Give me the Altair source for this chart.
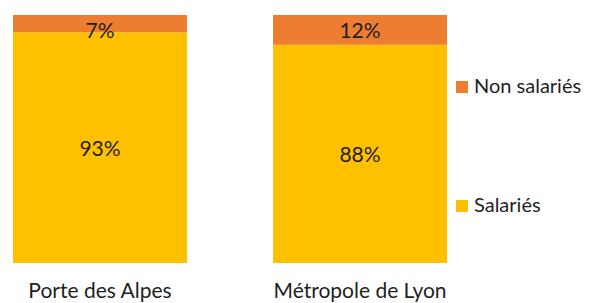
import altair as alt
import pandas as pd

zones = ["Porte des Alpes", "Métropole de Lyon"]
salaries = [93, 88]
non_salaries = [7, 12]
categories = ["Non salariés", "Salariés"]
colors = ["#ED7D31", "#FFC000"]

rows = []
for z, s, n in zip(zones, salaries, non_salaries):
    rows.append({"zone": z, "statut": "Salariés", "valeur": s, "ordre": 0, "label": f"{s}%"})
    rows.append({"zone": z, "statut": "Non salariés", "valeur": n, "ordre": 1, "label": f"{n}%"})
df = pd.DataFrame(rows)

font = "Lato"
txt = "#1f1f1f"
fs = 21

base = alt.Chart(df).encode(
    x=alt.X("zone:N", sort=zones,
            scale=alt.Scale(paddingInner=0.331, paddingOuter=0),
            axis=alt.Axis(title=None, labelAngle=0, domain=False, ticks=False,
                          labelPadding=17, labelFontSize=fs, labelFont=font,
                          labelColor=txt)),
)

bars = base.mark_bar().encode(
    y=alt.Y("valeur:Q", stack="zero", scale=alt.Scale(domain=[0, 100]), axis=None),
    color=alt.Color("statut:N", scale=alt.Scale(domain=categories, range=colors),
                    legend=alt.Legend(title=None, orient="none", legendX=439, legendY=62,
                                      symbolType="square", symbolSize=144,
                                      symbolStrokeWidth=0, labelFontSize=20,
                                      labelFont=font, labelColor=txt,
                                      labelOffset=2, rowPadding=99)),
    order=alt.Order("ordre:Q"),
)

labels_sal = base.transform_filter(alt.datum.statut == "Salariés").mark_text(
    fontSize=fs, font=font, color=txt, baseline="middle", dy=2
).encode(
    y=alt.Y("mid:Q"),
    text="label:N",
).transform_calculate(mid="datum.valeur / 2")

labels_non = base.transform_joinaggregate(
    total="sum(valeur)", groupby=["zone"]
).transform_filter(alt.datum.statut == "Non salariés").mark_text(
    fontSize=fs, font=font, color=txt, baseline="middle", dy=17
).encode(
    y=alt.Y("total:Q"),
    text="label:N",
)

chart = alt.layer(bars, labels_sal, labels_non).properties(
    width=434, height=248,
    padding={"left": 5, "top": 7, "right": 134, "bottom": 40},
    autosize="none",
    background="white",
).configure_view(stroke=None)

chart.save("out.html", embed_options={"renderer": "svg", "actions": False})
